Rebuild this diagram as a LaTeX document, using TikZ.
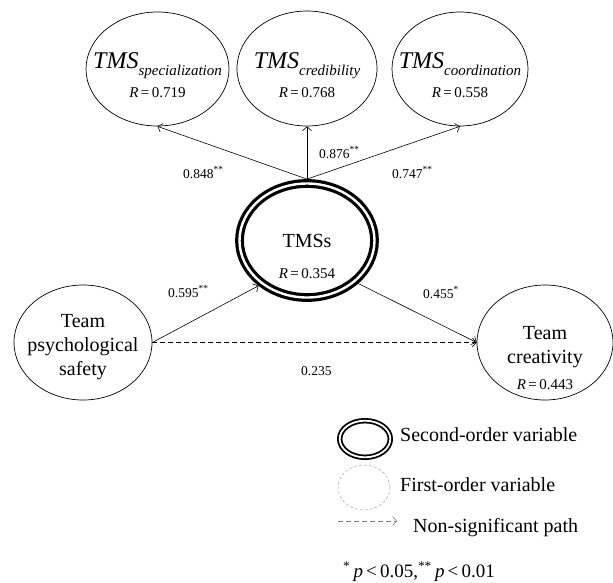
\documentclass[tikz,border=0pt]{standalone}
\usepackage{fontspec}
\setmainfont{Liberation Serif}
\usetikzlibrary{shapes.geometric,arrows.meta}
% R value and TMS dimension labels
\newcommand\Rval[1]{\textit{R}\,=\,#1}
\newcommand\tmsname[1]{{\fontsize{24}{28}\selectfont\itshape TMS}\raisebox{-7pt}{\fontsize{15}{18}\selectfont\itshape #1}}
\begin{document}
\begin{tikzpicture}[x=1pt,y=-1pt,
  latent/.style={ellipse, draw, line width=0.7pt, inner sep=0pt},
  second/.style={ellipse, draw, line width=3.2pt, double, double distance=2.4pt, inner sep=0pt, outer sep=4.4pt},
  arr/.style={line width=0.6pt, -{Straight Barb[length=4pt,width=9pt,line width=0.6pt]}},
  big/.style={font=\fontsize{20}{24}\selectfont, inner sep=0pt},
  coef/.style={font=\fontsize{13.5}{16}\selectfont, anchor=base west, inner sep=0pt},
  rval/.style={font=\fontsize{15}{18}\selectfont, anchor=base, inner sep=0pt},
  nonsig/.style={dash pattern=on 5pt off 3pt},
]
\useasboundingbox (0,0) rectangle (613,582);

% latent variables
\node[latent, minimum width=143pt, minimum height=114pt] (spec) at (157.5,69) {};
\node[latent, minimum width=140pt, minimum height=115pt] (cred) at (307,68.5) {};
\node[latent, minimum width=136pt, minimum height=114pt] (coord) at (460,69) {};
\node[second, minimum width=135pt, minimum height=114pt] (tms) at (307,240.5) {};
\node[latent, minimum width=138pt, minimum height=115pt] (psy) at (83,342.5) {};
\node[latent, minimum width=136pt, minimum height=115pt] (cre) at (545,342.5) {};

% labels inside the ellipses
\node[anchor=base, inner sep=0pt] (specT) at (157.5,68) {\tmsname{specialization}};
\node[rval] (specR) at (157.5,97) {\Rval{0.719}};
\node[anchor=base, inner sep=0pt] (credT) at (307,68) {\tmsname{credibility}};
\node[rval] (credR) at (307,97) {\Rval{0.768}};
\node[anchor=base, inner sep=0pt] (coordT) at (460,68) {\tmsname{coordination}};
\node[rval] (coordR) at (460,97) {\Rval{0.558}};
\node[big, anchor=base] (tmsT) at (307,247) {TMSs};
\node[rval] (tmsR) at (307,278) {\Rval{0.354}};
\node[big, anchor=base] (psyA) at (83,327) {Team};
\node[big, anchor=base] (psyB) at (83,351) {psychological};
\node[big, anchor=base] (psyC) at (83,375) {safety};
\node[big, anchor=base] (creA) at (545,339) {Team};
\node[big, anchor=base] (creB) at (545,363) {creativity};
\node[rval] (creR) at (545,389) {\Rval{0.443}};

% paths
\draw[arr] (tms.north) -- (spec.south);
\draw[arr] (tms.north) -- (cred.south);
\draw[arr] (tms.north) -- (coord.south);
\draw[arr] (psy.east) -- (tms.223);
\draw[arr] (tms.320) -- (cre.west);
\draw[arr, nonsig] (psy.east) -- (cre.west);

% path coefficients
\node[coef] (c1) at (183,178) {0.848\textsuperscript{**}};
\node[coef] (c2) at (319,158) {0.876\textsuperscript{**}};
\node[coef] (c3) at (392,178) {0.747\textsuperscript{**}};
\node[coef] (c4) at (168,297) {0.595\textsuperscript{**}};
\node[coef] (c5) at (423,298) {0.455\textsuperscript{*}};
\node[coef] (c6) at (301,375) {0.235};

% legend
\node[second, line width=1.8pt, double distance=1.8pt, outer sep=2.7pt, minimum width=50.6pt, minimum height=36.6pt] (legS) at (365,439) {};
\node[big, anchor=base west] (legST) at (400,441) {Second-order variable};
\node[ellipse, draw=gray!70, line width=0.5pt, densely dashed, inner sep=0pt, minimum width=52pt, minimum height=45pt] (legF) at (364,487.5) {};
\node[big, anchor=base west] (legFT) at (400,491) {First-order variable};
\coordinate (dA) at (338,521);
\coordinate (dB) at (397,521);
\draw[arr, nonsig, gray] (dA) -- (dB);
\node[big, anchor=base west] (legNT) at (413,532) {Non-significant path};
\node[font=\fontsize{19}{22}\selectfont, anchor=base west, inner sep=0pt] (legP) at (343,577)
  {\textsuperscript{*}\,\textit{p}\,<\,0.05,\textsuperscript{**}\,\textit{p}\,<\,0.01};
\end{tikzpicture}
\end{document}
